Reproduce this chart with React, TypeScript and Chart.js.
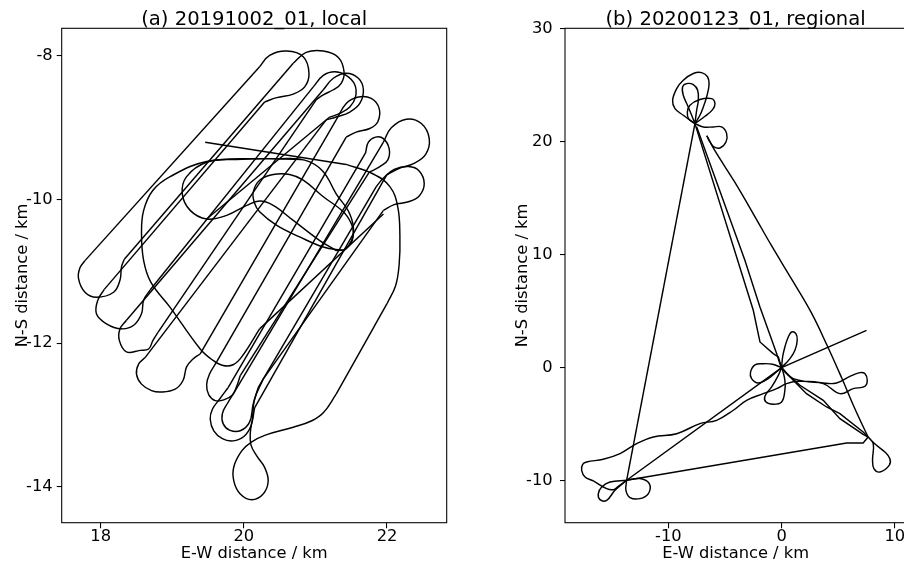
import { useEffect, useRef } from 'react';
import { Chart, registerables } from 'chart.js';

Chart.register(...registerables);

type Pt = [number, number];

const FONT = "'DejaVu Sans', sans-serif";
const TICK_SIZE = 16.3;
const TITLE_SIZE = 19.6;

const xAxisLabel = 'E-W distance / km';
const yAxisLabel = 'N-S distance / km';

// ---------------- panel (a) ----------------
const titleA = '(a) 20191002_01, local';
const xTicksA = [18, 20, 22];
const yTicksA = [-14, -12, -10, -8];
const xLimA: Pt = [17.455, 22.834];
const yLimA: Pt = [-14.5, -7.614];

// straight flight legs (km)
const legsA: Pt[][] = [
  [[19.46, -9.2], [21.43, -9.51]],
  [[22.0, -11.45], [21.29, -12.71]],
  [[20.27, -12.5], [21.95, -10.15]],
  [[21.85, -9.82], [20.2, -12.62]],
  [[19.88, -12.66], [21.95, -9.2]],
  [[22.0, -9.65], [20.15, -12.9]],
  [[19.78, -12.62], [21.7, -9.35]],
  [[21.75, -9.62], [19.95, -12.45]],
  [[19.62, -12.26], [21.43, -9.13]],
  [[21.29, -8.89], [19.39, -12.15]],
  [[20.22, -11.8], [21.95, -10.2]],
  [[17.78, -10.85], [20.22, -8.15]],
  [[18.33, -10.83], [20.69, -8.1]],
  [[18.05, -11.25], [20.29, -8.64]],
  [[18.69, -11.26], [20.97, -8.43]],
  [[18.36, -11.68], [21.11, -8.47]],
  [[18.8, -11.85], [21.01, -8.61]],
  [[18.62, -12.2], [21.15, -8.89]],
  [[21.2, -8.85], [19.48, -10.27]],
];

// turns and loops (km)
const eastArcA: Pt[] = [[21.43, -9.51], [21.8, -9.64], [22.04, -9.82], [22.15, -10.1], [22.18, -10.5], [22.17, -10.9], [22.12, -11.2], [22.0, -11.45]];
const teardropA: Pt[] = [[21.29, -12.71], [21.11, -12.97], [20.95, -13.08], [20.69, -13.17], [20.3, -13.28], [20.1, -13.38], [19.97, -13.5], [19.86, -13.72], [19.86, -13.92], [19.95, -14.1], [20.11, -14.18], [20.27, -14.1], [20.34, -13.92], [20.29, -13.73], [20.18, -13.57], [20.1, -13.42], [20.09, -13.25], [20.12, -13.05], [20.15, -12.78], [20.27, -12.5]];
const turnR7: Pt[] = [[21.95, -10.15], [22.1, -10.07], [22.3, -10.03], [22.45, -9.95], [22.52, -9.78], [22.45, -9.6], [22.3, -9.54], [22.1, -9.58], [21.95, -9.7], [21.85, -9.82]];
const turnL7: Pt[] = [[20.2, -12.62], [20.13, -12.85], [20.08, -13.1], [19.95, -13.22], [19.8, -13.21], [19.71, -13.12], [19.7, -12.98], [19.77, -12.84], [19.88, -12.66]];
const turnR6: Pt[] = [[21.95, -9.2], [22.06, -9.0], [22.27, -8.88], [22.48, -8.94], [22.59, -9.15], [22.54, -9.37], [22.37, -9.5], [22.18, -9.56], [22.0, -9.65]];
const turnL6: Pt[] = [[20.15, -12.9], [20.1, -13.15], [20.0, -13.3], [19.85, -13.36], [19.7, -13.33], [19.58, -13.22], [19.53, -13.06], [19.56, -12.92], [19.66, -12.78], [19.78, -12.62]];
const turnR5: Pt[] = [[21.7, -9.35], [21.74, -9.2], [21.84, -9.13], [21.95, -9.15], [22.03, -9.29], [22.01, -9.45], [21.9, -9.54], [21.75, -9.62]];
const turnL5: Pt[] = [[19.95, -12.45], [19.9, -12.6], [19.84, -12.72], [19.72, -12.79], [19.6, -12.8], [19.51, -12.72], [19.48, -12.58], [19.52, -12.43], [19.62, -12.26]];
const turnR4: Pt[] = [[21.43, -9.13], [21.57, -9.06], [21.76, -9.01], [21.87, -8.92], [21.89, -8.73], [21.78, -8.59], [21.6, -8.57], [21.43, -8.66], [21.29, -8.89]];
const turnL1: Pt[] = [[17.78, -10.85], [17.71, -10.95], [17.69, -11.1], [17.78, -11.29], [17.94, -11.36], [18.18, -11.29], [18.27, -11.12], [18.29, -10.94], [18.33, -10.83]];
const turnL2: Pt[] = [[18.05, -11.25], [17.96, -11.4], [17.94, -11.59], [18.08, -11.73], [18.29, -11.8], [18.46, -11.75], [18.57, -11.59], [18.6, -11.4], [18.69, -11.26]];
const turnL3: Pt[] = [[18.36, -11.68], [18.27, -11.8], [18.26, -11.96], [18.36, -12.12], [18.55, -12.1], [18.67, -12.08], [18.73, -11.96], [18.8, -11.85]];
const turnL4: Pt[] = [[18.62, -12.2], [18.53, -12.29], [18.5, -12.43], [18.57, -12.57], [18.71, -12.66], [18.85, -12.68], [19.04, -12.64], [19.15, -12.52], [19.2, -12.33], [19.29, -12.22], [19.39, -12.15]];
const turnR1: Pt[] = [[20.22, -8.15], [20.36, -7.99], [20.6, -7.93], [20.83, -8.01], [20.91, -8.24], [20.85, -8.43], [20.69, -8.53], [20.46, -8.58], [20.29, -8.64]];
const turnR2: Pt[] = [[20.69, -8.1], [20.87, -7.95], [21.11, -7.93], [21.32, -8.02], [21.4, -8.22], [21.36, -8.38], [21.25, -8.47], [21.11, -8.54], [21.01, -8.61]];
const turnR3a: Pt[] = [[20.97, -8.43], [21.11, -8.27], [21.27, -8.22], [21.43, -8.27], [21.55, -8.4], [21.56, -8.57], [21.48, -8.71], [21.34, -8.8], [21.2, -8.85]];
const turnR3b: Pt[] = [[21.11, -8.47], [21.25, -8.31], [21.43, -8.24], [21.6, -8.31], [21.67, -8.47], [21.62, -8.66], [21.48, -8.78], [21.29, -8.85], [21.15, -8.89]];
const bigLoopA: Pt[] = [[20.8, -9.44], [20.2, -9.43], [19.48, -9.47], [18.97, -9.68], [18.73, -9.87], [18.6, -10.15], [18.57, -10.47], [18.6, -10.85], [18.7, -11.15], [18.97, -11.5], [19.39, -12.08], [19.57, -12.24], [19.71, -12.31], [19.85, -12.3], [19.97, -12.19], [20.22, -11.8]];
const ovalM1: Pt[] = [[21.29, -10.71], [21.43, -10.68], [21.53, -10.47], [21.48, -10.2], [21.29, -9.92], [21.1, -9.6], [20.85, -9.45], [20.5, -9.43], [19.9, -9.44], [19.48, -9.48], [19.2, -9.68], [19.14, -9.92], [19.25, -10.15], [19.48, -10.27], [19.76, -10.22], [20.04, -10.08], [20.22, -10.02], [20.41, -10.08], [20.69, -10.29], [21.06, -10.57], [21.29, -10.71]];
const ovalM2: Pt[] = [[21.39, -10.71], [21.5, -10.6], [21.53, -10.45], [21.5, -10.33], [21.39, -10.17], [21.11, -9.96], [20.83, -9.73], [20.64, -9.65], [20.41, -9.65], [20.22, -9.73], [20.13, -9.9], [20.15, -10.05], [20.22, -10.17], [20.46, -10.36], [20.78, -10.52], [21.11, -10.66], [21.39, -10.71]];

const loopsA: Pt[][] = [eastArcA, teardropA, turnR7, turnL7, turnR6, turnL6, turnR5, turnL5, turnR4, turnL1, turnL2, turnL3, turnL4, turnR1, turnR2, turnR3a, turnR3b, bigLoopA, ovalM1, ovalM2];

// ---------------- panel (b) ----------------
const titleB = '(b) 20200123_01, regional';
const xTicksB = [-10, 0, 10];
const yTicksB = [-10, 0, 10, 20, 30];
const xLimB: Pt = [-19.12, 11.0];
const yLimB: Pt = [-13.71, 30];

const legsB: Pt[][] = [
  [[7.5, 3.3], [0, 0], [-13.68, -9.96]],
  [[-13.68, -9.96], [-7.65, 21.57]],
  [[-7.65, 21.57], [-3.88, 9.49], [-2.5, 5.07], [-1.91, 2.27], [-0.74, 1.24], [-0.29, 0.94], [0, 0]],
  [[-7.5, 21.3], [-3.24, 9.49], [-1.91, 5.36], [-0.44, 1.24], [-0.15, 0.35], [0, 0]],
  [[0, 0], [1.03, -1.12], [2.2, -2.3], [3.97, -3.48], [5.15, -4.07], [7.2, -5.69], [7.64, -6.14]],
  [[0.2, -0.3], [1.62, -1.56], [3.68, -2.89], [5.15, -4.51], [7.2, -5.9], [7.64, -6.14]],
  [[7.64, -6.14], [7.2, -6.67], [5.74, -6.66], [-13.68, -9.96]],
];

const eastSideB: Pt[] = [[-6.6, 20.5], [-5.9, 19.2], [-4.2, 16.5], [-2.5, 13.6], [-0.9, 10.8], [0.9, 7.8], [2.6, 4.9], [4.0, 2.0], [5.3, -0.9], [6.5, -3.7], [7.64, -6.14]];
const loopSwEast: Pt[] = [[-13.68, -9.96], [-12.5, -9.81], [-11.68, -10.26], [-11.76, -11.14], [-12.5, -11.58], [-13.38, -11.49], [-13.74, -10.85], [-13.68, -9.96]];
const loopSwWest: Pt[] = [[-13.68, -9.96], [-14.71, -10.85], [-15.44, -11.73], [-16.03, -11.67], [-16.18, -11.14], [-15.88, -10.55], [-15.15, -10.11], [-13.68, -9.96]];
const westLoopAndEastPetal: Pt[] = [[-13.68, -9.96], [-14.41, -10.49], [-14.85, -10.79], [-15.44, -10.7], [-16.62, -10.02], [-17.35, -9.67], [-17.65, -9.08], [-17.56, -8.55], [-17.21, -8.34], [-15.74, -8.1], [-14.26, -7.6], [-12.79, -6.72], [-11.32, -6.13], [-9.26, -5.84], [-7.21, -4.95], [-5.74, -4.66], [-4.26, -3.77], [-3.09, -2.89], [-1.62, -2.3], [-0.44, -1.86], [0.44, -1.41], [1.5, -1.2], [3.68, -1.41], [5.15, -2.3], [6.32, -1.86], [7.35, -1.65], [7.56, -1.12], [7.35, -0.53], [6.91, -0.44], [6.03, -0.77], [4.85, -1.36], [3.68, -1.36], [1.03, -0.97], [0, 0]];
const petalW: Pt[] = [[0, 0], [-0.8, 0.3], [-1.62, 0.35], [-2.35, 0.25], [-2.74, -0.38], [-2.65, -0.97], [-2.06, -1.36], [-1.18, -0.97], [-0.29, -0.24], [0, 0]];
const petalS: Pt[] = [[0, 0], [-0.29, -0.68], [-0.88, -1.71], [-1.47, -2.53], [-1.38, -3.04], [-0.74, -3.24], [0, -3.04], [0.29, -2.0], [0.29, -1.12], [0.09, -0.24], [0, 0]];
const petalN: Pt[] = [[0, 0], [0.09, 0.94], [0.29, 1.83], [0.59, 2.71], [0.88, 3.15], [1.26, 3.0], [1.38, 2.42], [1.18, 1.53], [0.74, 0.8], [0, 0]];
const teardropSE: Pt[] = [[7.64, -6.14], [8.09, -6.72], [8.03, -8.19], [8.15, -8.93], [8.68, -9.23], [9.5, -8.64], [9.56, -8.05], [9.12, -7.46], [8.38, -6.87], [7.64, -6.14]];
const loopNorthOuter: Pt[] = [[-7.65, 21.57], [-8.68, 22.31], [-9.41, 22.9], [-9.62, 23.64], [-9.26, 24.67], [-8.68, 25.41], [-7.79, 26.0], [-7.06, 26.08], [-6.53, 25.7], [-6.41, 24.96], [-6.62, 23.93], [-6.91, 23.05], [-7.21, 22.31], [-7.65, 21.57]];
const loopNorthInner: Pt[] = [[-7.65, 21.57], [-7.94, 22.31], [-8.24, 23.05], [-8.68, 24.08], [-8.74, 24.82], [-8.38, 25.11], [-7.79, 25.02], [-7.41, 24.52], [-7.35, 23.64], [-7.5, 22.75], [-7.65, 21.57]];
const loopNorthEast: Pt[] = [[-7.65, 21.57], [-8.2, 22.0], [-8.32, 22.6], [-8.09, 23.2], [-7.21, 23.7], [-6.18, 23.78], [-5.88, 23.34], [-6.09, 22.81], [-6.76, 22.22], [-7.65, 21.57]];
const loopNorthSE: Pt[] = [[-7.65, 21.57], [-6.91, 21.28], [-6.03, 21.28], [-5.29, 21.28], [-4.85, 20.69], [-4.91, 19.95], [-5.44, 19.42], [-5.97, 19.51], [-6.32, 19.95], [-6.6, 20.5]];

const loopsB: Pt[][] = [eastSideB, loopSwEast, loopSwWest, westLoopAndEastPetal, petalW, petalS, petalN, teardropSE, loopNorthOuter, loopNorthInner, loopNorthEast, loopNorthSE];

interface PanelSpec {
  title: string;
  xTicks: number[];
  yTicks: number[];
  xLim: Pt;
  yLim: Pt;
  legs: Pt[][];
  loops: Pt[][];
  yAxisWidth: number;
  yTickPad: number;
  padRight: number;
}

const panelA: PanelSpec = { title: titleA, xTicks: xTicksA, yTicks: yTicksA, xLim: xLimA, yLim: yLimA, legs: legsA, loops: loopsA, yAxisWidth: 61.7, yTickPad: 4, padRight: 23.3 };
const panelB: PanelSpec = { title: titleB, xTicks: xTicksB, yTicks: yTicksB, xLim: xLimB, yLim: yLimB, legs: legsB, loops: loopsB, yAxisWidth: 65, yTickPad: 7.3, padRight: 13.8 };

function makeConfig(p: PanelSpec): any {
  const toDs = (pts: Pt[], tension: number) => ({
    data: pts.map(([x, y]) => ({ x, y })),
    showLine: true,
    borderColor: '#000',
    borderWidth: 1.45,
    pointRadius: 0,
    pointHoverRadius: 0,
    tension,
    fill: false,
  });
  const datasets = [...p.legs.map((s) => toDs(s, 0)), ...p.loops.map((c) => toDs(c, 0.4))];
  const framePlugin = {
    id: 'frameAndTitle',
    afterDraw(chart: any) {
      const { ctx, chartArea: a } = chart;
      ctx.save();
      ctx.strokeStyle = '#000';
      ctx.lineWidth = 1.07;
      ctx.strokeRect(a.left, a.top, a.right - a.left, a.bottom - a.top);
      ctx.fillStyle = '#000';
      ctx.font = `${TITLE_SIZE}px ${FONT}`;
      ctx.textAlign = 'center';
      ctx.textBaseline = 'alphabetic';
      ctx.fillText(p.title, (a.left + a.right) / 2, 24.5);
      ctx.restore();
    },
  };
  const tickFont = { family: FONT, size: TICK_SIZE, lineHeight: 1 };
  return {
    type: 'scatter',
    data: { datasets },
    options: {
      animation: false,
      responsive: false,
      devicePixelRatio: 1,
      events: [],
      layout: { padding: { left: 0, top: 28.3, right: p.padRight, bottom: 0 } },
      plugins: { legend: { display: false }, tooltip: { enabled: false }, title: { display: false } },
      scales: {
        x: {
          type: 'linear',
          min: p.xLim[0],
          max: p.xLim[1],
          afterBuildTicks: (s: any) => {
            s.ticks = p.xTicks.map((v) => ({ value: v }));
          },
          afterFit: (s: any) => {
            s.height = 44.3;
          },
          grid: { display: true, drawOnChartArea: false, drawTicks: true, tickLength: 5.5, color: '#000', lineWidth: 1.07 },
          border: { display: false },
          ticks: { color: '#000', font: tickFont, padding: 0, maxRotation: 0, autoSkip: false, callback: (v: any) => String(v) },
          title: { display: true, text: xAxisLabel, color: '#000', font: tickFont, padding: { top: 0, bottom: 5 } },
        },
        y: {
          type: 'linear',
          min: p.yLim[0],
          max: p.yLim[1],
          afterBuildTicks: (s: any) => {
            s.ticks = p.yTicks.map((v) => ({ value: v }));
          },
          afterFit: (s: any) => {
            s.width = p.yAxisWidth;
          },
          grid: { display: true, drawOnChartArea: false, drawTicks: true, tickLength: 5, color: '#000', lineWidth: 1.07 },
          border: { display: false },
          ticks: { color: '#000', font: tickFont, padding: p.yTickPad, autoSkip: false, callback: (v: any) => String(v) },
          title: { display: true, text: yAxisLabel, color: '#000', font: tickFont, padding: { top: 15, bottom: 0 } },
        },
      },
    },
    plugins: [framePlugin],
  };
}

function PanelChart({ spec, left, width }: { spec: PanelSpec; left: number; width: number }) {
  const ref = useRef<HTMLCanvasElement | null>(null);
  useEffect(() => {
    if (!ref.current) return;
    const chart = new Chart(ref.current, makeConfig(spec));
    return () => chart.destroy();
  }, [spec]);
  return (
    <canvas
      ref={ref}
      width={width}
      height={567}
      style={{ position: 'absolute', left, top: 0, width, height: 567 }}
    />
  );
}

export default function App() {
  return (
    <div
      style={{
        position: 'fixed',
        left: 0,
        top: 0,
        width: 904,
        height: 567,
        overflow: 'hidden',
        background: '#fff',
      }}
    >
      <PanelChart spec={panelA} left={0} width={470} />
      <PanelChart spec={panelB} left={500} width={420} />
    </div>
  );
}
